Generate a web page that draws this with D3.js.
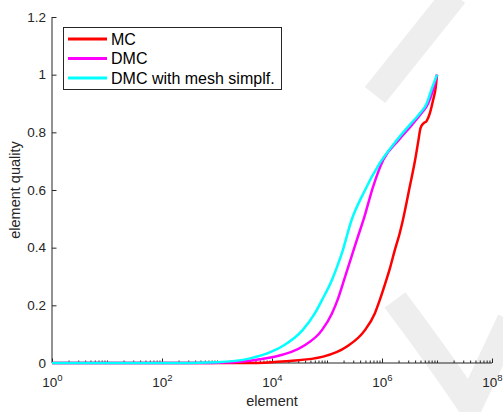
<!DOCTYPE html>
<html lang="en">

<head>
  <meta charset="UTF-8">
  <title>element quality</title>
  <script src="https://cdn.jsdelivr.net/npm/d3@7"></script>
  <style>
    body { margin: 0; background: #fff; }
    svg { display: block; font-family: "Liberation Sans", Arial, Helvetica, sans-serif; }
  </style>
</head>

<body>
  <svg id="chart"></svg>
</body>

</html>
<script>
  const width = 503, height = 412;

  // series (element count, quality)
  const mcElements = [1, 3200, 1e4, 2.1e4, 8.5e4, 2.3e5, 4.9e5, 7.4e5, 9.1e5, 1.2e6, 1.4e6, 1.7e6, 2.1e6, 2.4e6, 3.2e6, 4e6, 4.6e6, 5e6, 5.6e6, 6.5e6, 7.4e6, 8.5e6, 9.5e6, 1e7];
  const mcQuality = [0, 0, 0.003, 0.007, 0.022, 0.057, 0.114, 0.172, 0.218, 0.288, 0.33, 0.39, 0.45, 0.496, 0.612, 0.704, 0.773, 0.814, 0.83, 0.84, 0.866, 0.912, 0.958, 1];

  const dmcElements = [1, 300, 2000, 6000, 1e4, 3.6e4, 8.1e4, 1.23e5, 1.6e5, 2.1e5, 2.8e5, 3.6e5, 4.6e5, 6.9e5, 1.05e6, 2e6, 3.5e6, 5.2e6, 6.9e6, 8.5e6, 1e7];
  const dmcQuality = [0, 0, 0.003, 0.013, 0.02, 0.057, 0.114, 0.172, 0.225, 0.295, 0.37, 0.435, 0.496, 0.612, 0.704, 0.773, 0.826, 0.866, 0.9, 0.947, 1];

  const simplElements = [1, 100, 1000, 4000, 1e4, 1.6e4, 3.6e4, 6e4, 8.1e4, 1.23e5, 1.5e5, 1.86e5, 2.8e5, 4.6e5, 9.1e5, 1.86e6, 3.2e6, 4.9e6, 6.5e6, 7.9e6, 1e7];
  const simplQuality = [0, 0, 0.003, 0.016, 0.04, 0.06, 0.114, 0.172, 0.218, 0.288, 0.33, 0.38, 0.496, 0.589, 0.693, 0.773, 0.826, 0.866, 0.9, 0.947, 1];

  const seriesNames = ['MC', 'DMC', 'DMC with mesh simplf.'];
  const seriesColors = ['#ff0000', '#ff00ff', '#00ffff'];

  const yTicks = [0, 0.2, 0.4, 0.6, 0.8, 1, 1.2];
  const xLabelExponents = [0, 2, 4, 6, 8];

  const axisColor = '#262626';

  const svg = d3.select('#chart')
    .attr('width', width)
    .attr('height', height);

  // faint logo strokes of the publisher watermark
  const wm = svg.append('g')
    .attr('stroke', '#eeeeee')
    .attr('stroke-width', 26)
    .attr('fill', 'none');
  wm.append('path').attr('d', 'M455,-5 L375,95');
  wm.append('path').attr('d', 'M395,300 Q440,360 470,405 L510,320');

  const x = d3.scaleLog().domain([1, 1e8]).range([52, 492]);
  const y = d3.scaleLinear().domain([0, 1.2]).range([363, 17]);

  // y axis, ticks pointing inward
  const yAxis = svg.append('g')
    .attr('transform', `translate(${x.range()[0]},0)`)
    .call(d3.axisLeft(y).tickValues(yTicks).tickSize(-4.5).tickPadding(6).tickFormat(d => d));
  yAxis.select('.domain').attr('stroke', axisColor).attr('d', `M0,${y(1.2)}V${y(0)}`);
  yAxis.selectAll('.tick line').attr('stroke', axisColor);
  yAxis.selectAll('.tick text')
    .attr('fill', axisColor)
    .attr('font-size', 13.5)
    .attr('font-family', null);

  // x axis: minor ticks then decade ticks
  const minorTicks = [];
  for (let e = 0; e < 8; e++) {
    for (let m = 1; m < 10; m++) {
      if (m === 1 && e % 2 === 0) continue;
      minorTicks.push(m * Math.pow(10, e));
    }
  }
  const xMinor = svg.append('g')
    .attr('transform', `translate(0,${y(0)})`)
    .call(d3.axisBottom(x).tickValues(minorTicks).tickSize(-2.5).tickFormat(''));
  xMinor.select('.domain').remove();
  xMinor.selectAll('.tick line').attr('stroke', axisColor);

  const xAxis = svg.append('g')
    .attr('transform', `translate(0,${y(0)})`)
    .call(d3.axisBottom(x)
      .tickValues(xLabelExponents.map(e => Math.pow(10, e)))
      .tickSize(-4.5)
      .tickFormat(''));
  xAxis.select('.domain').attr('stroke', axisColor).attr('d', `M${x(1)},0H${x(1e8)}`);
  xAxis.selectAll('.tick line').attr('stroke', axisColor);
  xAxis.selectAll('.tick').each(function (d) {
    const t = d3.select(this).append('text')
      .attr('y', 24)
      .attr('fill', axisColor)
      .attr('font-size', 13.5)
      .attr('text-anchor', 'middle');
    t.append('tspan').text('10');
    t.append('tspan')
      .attr('dy', -6)
      .attr('font-size', 9.5)
      .text(Math.round(Math.log10(d)));
  });

  // axis titles
  svg.append('text')
    .attr('x', (x.range()[0] + x.range()[1]) / 2)
    .attr('y', 406)
    .attr('text-anchor', 'middle')
    .attr('font-size', 14.5)
    .attr('fill', axisColor)
    .text('element');

  svg.append('text')
    .attr('transform', `translate(20,${(y(0) + y(1.2)) / 2}) rotate(-90)`)
    .attr('text-anchor', 'middle')
    .attr('font-size', 14.5)
    .attr('fill', axisColor)
    .text('element quality');

  // curves
  const series = [
    { elements: mcElements, quality: mcQuality },
    { elements: dmcElements, quality: dmcQuality },
    { elements: simplElements, quality: simplQuality },
  ];

  const line = d3.line()
    .x(d => x(d[0]))
    .y(d => y(d[1]))
    .curve(d3.curveMonotoneX);

  series.forEach((s, i) => {
    svg.append('path')
      .datum(d3.zip(s.elements, s.quality))
      .attr('d', line)
      .attr('fill', 'none')
      .attr('stroke', seriesColors[i])
      .attr('stroke-width', 2.5)
      .attr('stroke-linejoin', 'round');
  });

  // legend
  const legend = svg.append('g');
  legend.append('rect')
    .attr('x', 63.5)
    .attr('y', 27.5)
    .attr('width', 218)
    .attr('height', 62)
    .attr('fill', '#fff')
    .attr('stroke', axisColor)
    .attr('stroke-width', 1);

  seriesNames.forEach((name, i) => {
    const ly = 39 + i * 19.5;
    legend.append('line')
      .attr('x1', 68)
      .attr('x2', 107)
      .attr('y1', ly)
      .attr('y2', ly)
      .attr('stroke', seriesColors[i])
      .attr('stroke-width', 3);
    legend.append('text')
      .attr('x', 111)
      .attr('y', ly)
      .attr('dy', '0.36em')
      .attr('font-size', 16)
      .attr('fill', '#000')
      .text(name);
  });
</script>
